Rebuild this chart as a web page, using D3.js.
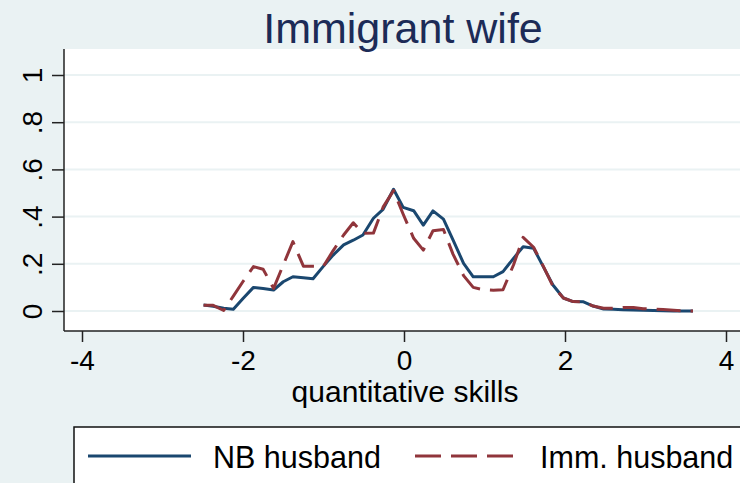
<!DOCTYPE html>
<html>
<head>
<meta charset="utf-8">
<script src="https://cdn.jsdelivr.net/npm/d3@7"></script>
<style>
  body { margin: 0; background: #eaf2f3; }
  svg { display: block; font-family: "Liberation Sans", Arial, sans-serif; }
</style>
</head>
<body>
<div id="chart"></div>
<script>
// ---------------------------------------------------------- DATA ----------------------------------------------------
var xValues = [-2.49, -2.37, -2.24, -2.12, -2.00, -1.87, -1.75, -1.62, -1.50, -1.38,
               -1.25, -1.13, -1.00, -0.88, -0.75, -0.63, -0.51, -0.38, -0.26, -0.13,
               -0.01, 0.12, 0.24, 0.36, 0.49, 0.61, 0.74, 0.86, 0.99, 1.11,
               1.23, 1.36, 1.48, 1.61, 1.73, 1.85, 1.98, 2.10, 2.23, 2.35,
               2.48, 2.60, 2.72, 2.85, 2.97, 3.10, 3.22, 3.35, 3.47, 3.59];

var nbHusband = [0.025, 0.02, 0.012, 0.007, 0.053, 0.10, 0.095, 0.089, 0.124, 0.145,
                 0.141, 0.137, 0.19, 0.237, 0.28, 0.30, 0.322, 0.393, 0.431, 0.516,
                 0.439, 0.425, 0.364, 0.424, 0.389, 0.30, 0.202, 0.145, 0.145, 0.145,
                 0.167, 0.223, 0.272, 0.266, 0.188, 0.11, 0.055, 0.04, 0.039, 0.021,
                 0.008, 0.007, 0.005, 0.004, 0.003, 0.002, 0.001, 0.0, 0.0, 0.0];

var immHusband = [0.024, 0.024, 0.002, 0.063, 0.125, 0.188, 0.177, 0.096, 0.195, 0.294,
                  0.19, 0.19, 0.19, 0.256, 0.322, 0.374, 0.329, 0.33, 0.44, 0.51,
                  0.41, 0.308, 0.258, 0.34, 0.345, 0.24, 0.15, 0.10, 0.09, 0.088,
                  0.09, 0.195, 0.312, 0.27, 0.19, 0.105, 0.055, 0.04, 0.039, 0.021,
                  0.012, 0.012, 0.015, 0.015, 0.01, 0.008, 0.006, 0.003, 0.001, 0.0];

var xTicks = [-4, -2, 0, 2, 4];
var yTicks = [0, 0.2, 0.4, 0.6, 0.8, 1];
var yTickLabels = ["0", ".2", ".4", ".6", ".8", "1"];
var seriesNames = ["NB husband", "Imm. husband"];

// ---------------------------------------------------------- SVG -----------------------------------------------------
var width = 740;
var height = 483;
var blue = "#1a476f";
var red = "#90353b";

var svg = d3.select("#chart").append("svg")
    .attr("width", width)
    .attr("height", height);

svg.append("rect")
    .attr("width", width)
    .attr("height", height)
    .attr("fill", "#eaf2f3");

var x = d3.scaleLinear().domain([-4, 4]).range([82, 726]);
var y = d3.scaleLinear().domain([0, 1]).range([311, 75]);

// plot region
svg.append("rect")
    .attr("x", 64)
    .attr("y", 49)
    .attr("width", width - 64)
    .attr("height", 331 - 49)
    .attr("fill", "#ffffff");

// gridlines
svg.append("g")
  .selectAll("line")
  .data(yTicks)
  .join("line")
    .attr("x1", 64)
    .attr("x2", width)
    .attr("y1", function(d) { return y(d); })
    .attr("y2", function(d) { return y(d); })
    .attr("stroke", "#eaf2f3")
    .attr("stroke-width", 2);

// y axis
var yAxis = svg.append("g")
    .attr("transform", "translate(64,0)")
    .call(d3.axisLeft(y).tickValues(yTicks).tickSize(12).tickPadding(10)
        .tickFormat(function(d, i) { return yTickLabels[i]; }));
yAxis.select(".domain").attr("d", "M0,49V331");
yAxis.selectAll("line").attr("stroke-width", 1.5).attr("stroke", "#222");
yAxis.select(".domain").attr("stroke-width", 1.5).attr("stroke", "#222");
yAxis.selectAll("text")
    .attr("font-size", 28)
    .attr("fill", "#000")
    .attr("text-anchor", "middle")
    .attr("x", null)
    .attr("dy", null)
    .attr("transform", "translate(-22,0) rotate(-90)");

// x axis
var xAxis = svg.append("g")
    .attr("transform", "translate(0,331)")
    .call(d3.axisBottom(x).tickValues(xTicks).tickSize(11).tickPadding(8)
        .tickFormat(function(d) { return d < 0 ? "-" + Math.abs(d) : d; }));
xAxis.select(".domain").attr("d", "M64,0H" + width);
xAxis.selectAll("line").attr("stroke-width", 1.5).attr("stroke", "#222");
xAxis.select(".domain").attr("stroke-width", 1.5).attr("stroke", "#222");
xAxis.selectAll("text")
    .attr("font-size", 28)
    .attr("fill", "#000");

svg.append("text")
    .attr("x", 405)
    .attr("y", 402)
    .attr("text-anchor", "middle")
    .attr("font-size", 30)
    .text("quantitative skills");

// title
svg.append("text")
    .attr("x", 403)
    .attr("y", 43)
    .attr("text-anchor", "middle")
    .attr("font-size", 43)
    .attr("fill", "#1c2b57")
    .text("Immigrant wife");

// lines
var line = d3.line()
    .x(function(d, i) { return x(xValues[i]); })
    .y(function(d) { return y(d); });

svg.append("path")
    .datum(nbHusband)
    .attr("d", line)
    .attr("fill", "none")
    .attr("stroke", blue)
    .attr("stroke-width", 3)
    .attr("stroke-linejoin", "round");

svg.append("path")
    .datum(immHusband)
    .attr("d", line)
    .attr("fill", "none")
    .attr("stroke", red)
    .attr("stroke-width", 3)
    .attr("stroke-dasharray", "24,10")
    .attr("stroke-linejoin", "round");

// legend
var legend = svg.append("g");
legend.append("rect")
    .attr("x", 74)
    .attr("y", 427)
    .attr("width", 700)
    .attr("height", 80)
    .attr("fill", "#ffffff")
    .attr("stroke", "#111")
    .attr("stroke-width", 1.5);

legend.append("line")
    .attr("x1", 88).attr("x2", 191)
    .attr("y1", 456).attr("y2", 456)
    .attr("stroke", blue)
    .attr("stroke-width", 3);
legend.append("text")
    .attr("x", 213).attr("y", 468)
    .attr("font-size", 30.5)
    .text(seriesNames[0]);

legend.append("line")
    .attr("x1", 415).attr("x2", 513)
    .attr("y1", 456).attr("y2", 456)
    .attr("stroke", red)
    .attr("stroke-width", 3)
    .attr("stroke-dasharray", "26,10");
legend.append("text")
    .attr("x", 540).attr("y", 468)
    .attr("font-size", 30.5)
    .text(seriesNames[1]);
</script>
</body>
</html>
